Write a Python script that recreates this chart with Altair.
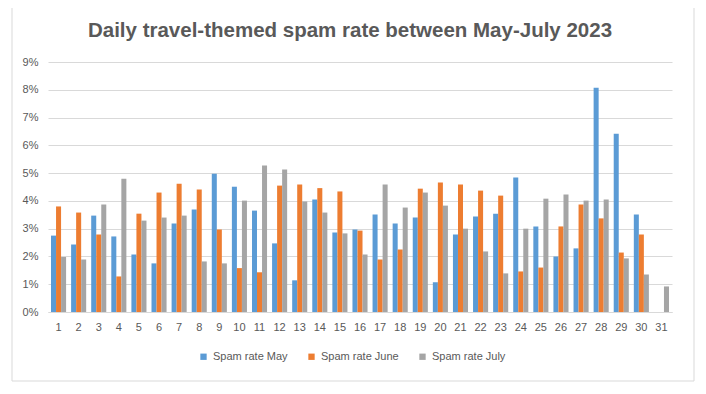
import altair as alt
import pandas as pd

days = list(range(1, 32))
series = ["Spam rate May", "Spam rate June", "Spam rate July"]
colors = ["#5B9BD5", "#ED7D31", "#A5A5A5"]
title_text = "Daily travel-themed spam rate between May-July 2023"

may = [2.75, 2.43, 3.47, 2.72, 2.07, 1.75, 3.19, 3.69, 4.98, 4.51, 3.65, 2.47, 1.14, 4.05, 2.86,
       2.97, 3.51, 3.19, 3.40, 1.07, 2.79, 3.44, 3.54, 4.84, 3.08, 2.00, 2.29, 8.07, 6.42, 3.51, None]
june = [3.80, 3.58, 2.79, 1.28, 3.54, 4.30, 4.62, 4.41, 2.97, 1.58, 1.43, 4.55, 4.59, 4.46, 4.34,
        2.93, 1.89, 2.25, 4.44, 4.66, 4.59, 4.37, 4.19, 1.46, 1.60, 3.08, 3.87, 3.37, 2.14, 2.79, None]
july = [1.98, 1.89, 3.87, 4.80, 3.29, 3.40, 3.47, 1.82, 1.75, 4.01, 5.27, 5.13, 3.98, 3.58, 2.83,
        2.07, 4.59, 3.76, 4.30, 3.83, 3.00, 2.18, 1.39, 3.00, 4.08, 4.23, 4.01, 4.05, 1.93, 1.35, 0.92]
y_ticks = [0, 0.01, 0.02, 0.03, 0.04, 0.05, 0.06, 0.07, 0.08, 0.09]

rows = []
for name, vals in zip(series, [may, june, july]):
    for d, v in zip(days, vals):
        if v is not None:
            rows.append({"day": d, "series": name, "rate": v / 100.0})
df = pd.DataFrame(rows)

TXT = "#595959"
GRID = "#D9D9D9"
FONT = "Liberation Sans"

bars = alt.Chart(df).mark_bar().encode(
    x=alt.X("day:O", sort=days,
            scale=alt.Scale(paddingInner=0.25, paddingOuter=0.15),
            axis=alt.Axis(title=None, labelAngle=0, ticks=False, domainColor=GRID,
                          labelColor=TXT, labelFontSize=11, labelFont=FONT,
                          labelPadding=9, grid=False)),
    xOffset=alt.XOffset("series:N", sort=series, scale=alt.Scale(paddingInner=0)),
    y=alt.Y("rate:Q", scale=alt.Scale(domain=[0, 0.09]),
            axis=alt.Axis(title=None, format=".0%", values=y_ticks, domain=False, ticks=False,
                          gridColor=GRID, labelColor=TXT, labelFontSize=11, labelFont=FONT,
                          labelPadding=10)),
    color=alt.Color("series:N", sort=series,
                    scale=alt.Scale(domain=series, range=colors),
                    legend=alt.Legend(title=None, orient="none", direction="horizontal",
                                      legendX=150, legendY=289, symbolType="square",
                                      symbolSize=40, symbolStrokeWidth=0,
                                      labelFontSize=11, labelFont=FONT, labelColor=TXT,
                                      labelOffset=4, columnPadding=18)),
)

one = pd.DataFrame({"a": [0]})

frame = alt.Chart(one).mark_rect(
    fill="transparent", stroke=GRID, strokeWidth=1
).encode(x=alt.value(-36), x2=alt.value(646), y=alt.value(-57), y2=alt.value(319))

title = alt.Chart(one).mark_text(
    font=FONT, fontSize=20.5, fontWeight="bold", color=TXT, align="center", baseline="middle"
).encode(x=alt.value(302), y=alt.value(-31), text=alt.value(title_text))

chart = alt.layer(frame, bars, title).properties(
    width=624, height=250,
    autosize=alt.AutoSizeParams(type="none"),
    padding={"left": 40, "top": 54, "right": 26, "bottom": 70},
).configure_view(strokeWidth=0)

chart.save("out.html", embed_options={"renderer": "svg", "actions": False})
